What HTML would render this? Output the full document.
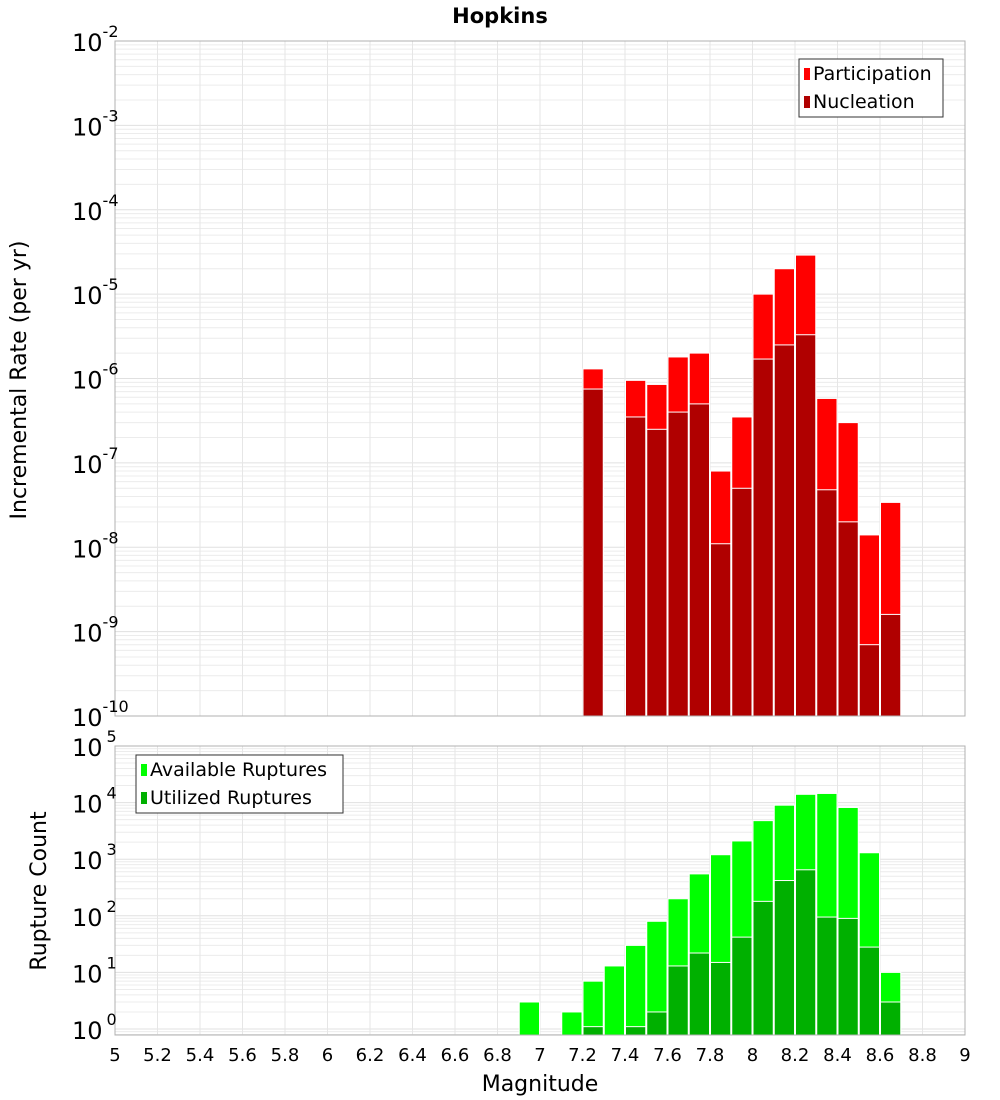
<!DOCTYPE html>
<html><head><meta charset="utf-8"><style>body{margin:0;background:#fff}svg{display:block;font-family:"DejaVu Sans","Liberation Sans",sans-serif}</style></head>
<body>
<svg id="c" width="1000" height="1100"></svg>
<script>
const topBins=[7.2,7.4,7.5,7.6,7.7,7.8,7.9,8.0,8.1,8.2,8.3,8.4,8.5,8.6];
const participation=[1.3e-6,9.5e-7,8.5e-7,1.8e-6,2e-6,8e-8,3.5e-7,1e-5,2e-5,2.9e-5,5.8e-7,3e-7,1.4e-8,3.4e-8];
const nucleation=[7.5e-7,3.5e-7,2.5e-7,4e-7,5e-7,1.1e-8,5e-8,1.7e-6,2.5e-6,3.3e-6,4.8e-8,2e-8,7e-10,1.6e-9];
const botBins=[6.9,7.1,7.2,7.3,7.4,7.5,7.6,7.7,7.8,7.9,8.0,8.1,8.2,8.3,8.4,8.5,8.6];
const available=[3,2,7,13,30,80,200,550,1200,2100,4800,9000,14000,14500,8200,1300,10];
const utilized=[0,0,1.1,0,1.1,2,13,22,15,42,180,420,650,95,90,28,3];
const xTicks=[5,5.2,5.4,5.6,5.8,6,6.2,6.4,6.6,6.8,7,7.2,7.4,7.6,7.8,8,8.2,8.4,8.6,8.8,9];
const topExps=[-2,-3,-4,-5,-6,-7,-8,-9,-10];
const botExps=[5,4,3,2,1,0];

const NS="http://www.w3.org/2000/svg",svg=document.getElementById('c');
function el(t,a,p){const e=document.createElementNS(NS,t);for(const k in a)e.setAttribute(k,a[k]);(p||svg).appendChild(e);return e;}
const X0=115,X1=965;
const x=m=>X0+(m-5)/4*(X1-X0);
const T0=41,T1=716,yT=v=>T1-(Math.log10(v)+10)/8*(T1-T0);
const B0=746,B1=1035,DEC=56.6,yB=v=>1029-Math.log10(v)*DEC;

function grid(top,bot,yf,lo,hi){
  for(let e=lo;e<hi;e++)for(let k=1;k<10;k++){const y=yf(k*Math.pow(10,e));if(y>=top&&y<=bot){const g=el('line',{x1:X0,x2:X1,y1:y,y2:y,stroke:k==1?'#e0e0e0':'#ececec','stroke-width':1});}}
  xTicks.forEach(t=>{const g=el('line',{x1:x(t),x2:x(t),y1:top,y2:bot,stroke:'#e6e6e6'});});
}
grid(T0,T1,yT,-10,-2);
grid(B0,B1,yB,-1,5);

topBins.forEach((m,i)=>{
  const r=el('rect',{x:x(m)+0.5,y:yT(participation[i]),width:x(m+0.1)-x(m)-1,height:T1-yT(participation[i]),fill:'#ff0000',stroke:'#fff','stroke-width':1});
  
  const n=el('rect',{x:x(m)+0.5,y:yT(nucleation[i]),width:x(m+0.1)-x(m)-1,height:T1-yT(nucleation[i]),fill:'#b00000',stroke:'#fff','stroke-width':1});
  
});
botBins.forEach((m,i)=>{
  const r=el('rect',{x:x(m)+0.5,y:yB(available[i]),width:x(m+0.1)-x(m)-1,height:B1-yB(available[i]),fill:'#00ff00',stroke:'#fff','stroke-width':1});
  
  if(utilized[i]>0){const n=el('rect',{x:x(m)+0.5,y:yB(utilized[i]),width:x(m+0.1)-x(m)-1,height:B1-yB(utilized[i]),fill:'#00b000',stroke:'#fff','stroke-width':1});
  }
});
el('rect',{x:X0,y:T0,width:X1-X0,height:T1-T0,fill:'none',stroke:'#b0b0b0'});
el('rect',{x:X0,y:B0,width:X1-X0,height:B1-B0,fill:'none',stroke:'#b0b0b0'});

topExps.forEach(e=>{const y=yT(Math.pow(10,e));const t=el('text',{x:72,y:y+10,'font-size':24,fill:'#000'});t.textContent='10';const s=el('tspan',{dy:-14,'font-size':16},t);s.textContent=String(e);});
botExps.forEach(e=>{const y=yB(Math.pow(10,e));const t=el('text',{x:72,y:y+10,'font-size':24,fill:'#000'});t.textContent='10';const s=el('tspan',{dx:4,dy:-14,'font-size':16},t);s.textContent=String(e);});
xTicks.forEach(v=>{const t=el('text',{x:x(v),y:1061,'font-size':18,'text-anchor':'middle',fill:'#000'});t.textContent=String(v);});

function txt(s,a,nm){const t=el('text',a);t.textContent=s;return t;}
txt('Hopkins',{x:500,y:23,'font-size':21,'font-weight':'bold','text-anchor':'middle'},'chart-title');
txt('Magnitude',{x:540,y:1091,'font-size':22,'text-anchor':'middle'},'x-axis-title');
txt('Incremental Rate (per yr)',{x:0,y:0,'font-size':22,'text-anchor':'middle',transform:'translate(26,380) rotate(-90)'},'y-axis-title-top');
txt('Rupture Count',{x:0,y:0,'font-size':22,'text-anchor':'middle',transform:'translate(46,891) rotate(-90)'},'y-axis-title-bottom');

function legend(x0,y0,w,items,nm){const g=el('g',{});
  el('rect',{x:x0,y:y0,width:w,height:58,fill:'#fff',stroke:'#333'},g);
  items.forEach((it,i)=>{el('rect',{x:x0+5,y:y0+9+i*28,width:6,height:12,fill:it[1]},g);const t=el('text',{x:x0+14,y:y0+21+i*28,'font-size':19},g);t.textContent=it[0];});}
legend(799,59,144,[['Participation','#ff0000'],['Nucleation','#b00000']],'legend-top');
legend(136,755,207,[['Available Ruptures','#00ff00'],['Utilized Ruptures','#00b000']],'legend-bottom');
</script>
</body></html>
